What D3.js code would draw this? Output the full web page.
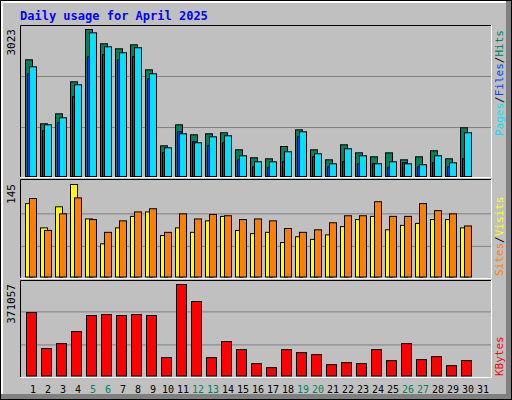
<!DOCTYPE html>
<html><head><meta charset="utf-8">
<script src="https://cdn.jsdelivr.net/npm/d3@7"></script>
<style>body{margin:0;background:#fff}svg{display:block}</style>
</head><body>
<svg id="chart" width="512" height="400"></svg>
<script>
const days = d3.range(1, 32);
const weekend = [5, 6, 12, 13, 19, 20, 26, 27];
const hits = [2400,1084,1289,1947,3023,2729,2626,2708,2194,631,1063,858,878,899,549,385,364,617,960,549,343,652,487,405,487,343,405,529,364,1002];
const files = [2256,1063,1207,1886,2955,2667,2544,2647,2112,590,878,693,816,837,426,302,302,508,919,467,261,570,426,261,302,261,241,426,282,899];
const pages = [2112,940,1104,1639,2462,2503,2400,2462,2009,487,919,714,631,693,343,199,179,302,816,405,199,302,261,261,179,282,199,282,199,364];
const sites = [115,77,110,145,91,52,77,95,102,65,77,70,88,95,73,68,70,54,63,59,66,79,90,95,74,81,84,90,90,77];
const visits = [123,73,99,124,90,70,88,102,107,70,99,91,98,96,90,91,88,76,70,74,85,96,96,118,95,95,115,104,99,80];
const kbytes = [257250,110950,131270,180040,245060,249120,245060,249120,245060,74370,371057,301960,74370,139400,106880,49990,33730,106880,94690,86560,45920,54050,49990,106880,62180,131270,66250,78440,41860,62180];

const svg = d3.select("#chart");
const font = "DejaVu Sans Mono, monospace";

// frame
svg.append("rect").attr("x",0).attr("y",0).attr("width",512).attr("height",400).attr("fill","#000");
svg.append("rect").attr("x",1).attr("y",1).attr("width",510).attr("height",398).attr("fill","#808080");
svg.append("rect").attr("x",1).attr("y",1).attr("width",505).attr("height",393).attr("fill","#fff");
svg.append("rect").attr("x",3).attr("y",3).attr("width",503).attr("height",391).attr("fill","#C0C0C0");

svg.append("text").attr("x",20).attr("y",20).attr("fill","#0000FF")
  .style("font-family",font).style("font-size","12px").style("font-weight","bold")
  .text("Daily usage for April 2025");

const x = d3.scaleBand().domain(days).range([25, 490]).paddingInner(0).paddingOuter(0);

const panels = [
  {top:25, bottom:177},
  {top:179, bottom:278},
  {top:280, bottom:377}
];
panels.forEach(p => {
  svg.append("rect").attr("x",20).attr("y",p.top).attr("width",471).attr("height",p.bottom-p.top)
    .attr("fill","#C0C0C0").attr("stroke","none");
  svg.append("path").attr("d",`M20.5,${p.bottom}V${p.top+0.5}H491`).attr("stroke","#000").attr("fill","none");
  svg.append("path").attr("d",`M491.5,${p.top}V${p.bottom+0.5}H20`).attr("stroke","#fff").attr("fill","none");
});

function grid(y0, y1, vals, ymap) {
  vals.forEach(v => {
    svg.append("line").attr("x1",21).attr("x2",491).attr("y1",ymap(v)+0.5).attr("y2",ymap(v)+0.5)
      .attr("stroke","#808080");
  });
}

function bars(data, ymap, dx, w, color) {
  svg.append("g").selectAll("rect").data(data).join("rect")
    .attr("x",(d,i)=>x(days[i])+dx+0.5)
    .attr("y",d=>ymap(d)+0.5)
    .attr("width",w)
    .attr("height",d=>ymap(0)-ymap(d))
    .attr("fill",color).attr("stroke","#000");
}

// top panel
const y1 = d3.scaleLinear().domain([0,3023]).range([176,29]);
grid(0,0,[1007,2056],y1);
bars(hits,y1,0,7,"#00805C");
bars(pages,y1,2,5,"#0040FF");
bars(files,y1,4,7,"#00E0FF");

// middle
const y2 = d3.scaleLinear().domain([0,145]).range([276.5,184]);
grid(0,0,[48,99],y2);
bars(sites,y2,0,7,"#FFFF00");
bars(visits,y2,4,7,"#FF8000");

// bottom
const y3 = d3.scaleLinear().domain([0,371057]).range([375.5,284]);
grid(0,0,[126000,260000],y3);
bars(kbytes,y3,1,10,"#FF0000");

// left max labels
[[15,29,"3023"],[15,184,"145"],[15,284,"371057"]].forEach(([lx,ly,t])=>{
  svg.append("text").attr("transform",`translate(${lx},${ly}) rotate(-90)`)
    .attr("text-anchor","end").attr("fill","#000")
    .style("font-family",font).style("font-size","11px").text(t);
});

// right legends
function legend(yb, parts) {
  const t = svg.append("text").attr("transform",`translate(503,${yb}) rotate(-90)`)
    .style("font-family",font).style("font-size","11px");
  parts.forEach(([s,c])=>t.append("tspan").attr("fill",c).text(s));
}
legend(136,[["Pages","#00E0FF"],["/","#000"],["Files","#0040FF"],["/","#000"],["Hits","#00805C"]]);
legend(276,[["Sites","#FF8000"],["/","#000"],["Visits","#FFFF00"]]);
legend(376,[["KBytes","#FF0000"]]);

// day labels
svg.append("g").selectAll("text").data(days).join("text")
  .attr("x",d=>x(d)+8).attr("y",393).attr("text-anchor","middle")
  .attr("fill",d=>weekend.includes(d)?"#00805C":"#000")
  .style("font-family",font).style("font-size","10px").text(d=>d);
</script>
</body></html>
